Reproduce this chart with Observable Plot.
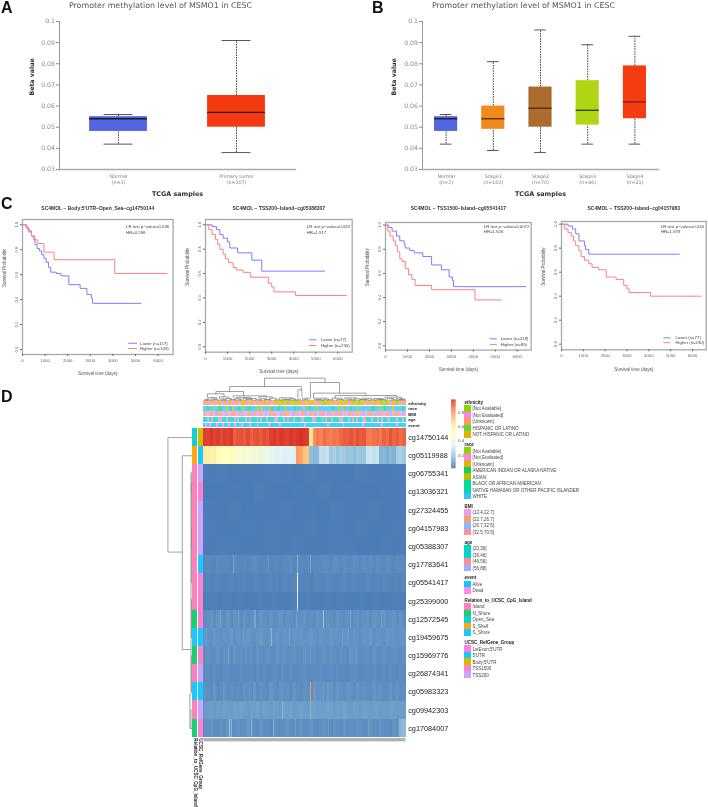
<!DOCTYPE html>
<html><head><meta charset="utf-8">
<script src="https://cdn.jsdelivr.net/npm/d3@7"></script>
<script src="https://cdn.jsdelivr.net/npm/@observablehq/plot@0.6"></script>
<style>
html,body{margin:0;padding:0;background:#fff;width:708px;height:807px;overflow:hidden}
#page{position:relative;width:708px;height:807px;filter:blur(0.3px)}
#page svg{position:absolute;overflow:visible;max-width:none}
.tag{position:absolute;font:bold 16px/16px "Liberation Sans";color:#111}
</style></head><body><div id="page"></div>
<script>
// ---------- Panels A, B: box summaries (min, q1, median, q3, max) ----------
const groupsA = ["Normal","Primary tumor"];
const countsA = ["n=3","n=307"];
const minA = [0.042,0.038], q1A = [0.048,0.050], medA = [0.054,0.057], q3A = [0.055,0.065], maxA = [0.056,0.091];
const fillA = ["#5266e0","#f43910"], medColorA = ["#1a1a2a","#3a1a10"];
const groupsB = ["Normal","Stage1","Stage2","Stage3","Stage4"];
const countsB = ["n=3","n=163","n=70","n=46","n=21"];
const minB = [0.042,0.039,0.038,0.042,0.042], q1B = [0.048,0.049,0.050,0.051,0.054], medB = [0.054,0.054,0.059,0.058,0.062], q3B = [0.055,0.060,0.069,0.072,0.079], maxB = [0.056,0.081,0.096,0.089,0.093];
const fillB = ["#5266e0","#f08a1d","#ad6b30","#b0d514","#f43c10"], medColorB = ["#1a1a2a","#4d2e10","#4d2e12","#2e3a10","#7d2010"];
const betaTicks = [0.03,0.04,0.05,0.06,0.07,0.08,0.09,0.1];
const boxTitle = "Promoter methylation level of MSMO1 in CESC";

// ---------- Panel C: survival curves (time in days, probability) ----------
const km1LowT=[0,150,250,400,500,550,650,750,850,950,1050,1150,1250,1500,1700,2050,2550,2850,3050,3100,5250];
const km1LowS=[1,.98,.95,.91,.88,.84,.81,.79,.76,.73,.70,.66,.62,.61,.59,.52,.49,.44,.41,.37,.37];
const km1HighT=[0,200,300,400,550,650,950,1400,4080,6400];
const km1HighS=[1,.97,.94,.91,.88,.85,.78,.72,.61,.61];
const km2LowT=[0,300,500,650,800,1000,1100,1450,2100,2550,5400];
const km2LowS=[1,.985,.96,.92,.89,.86,.81,.77,.71,.62,.62];
const km2HighT=[0,150,300,450,550,650,800,900,1050,1250,1400,1700,2050,2850,3000,3100,4080,6400];
const km2HighS=[1,.96,.92,.88,.84,.80,.76,.72,.69,.65,.63,.61,.57,.52,.49,.45,.42,.42];
const km3LowT=[0,150,300,500,650,850,900,1100,1300,1700,2100,2550,2900,3050,3100,6400];
const km3LowS=[1,.98,.95,.91,.87,.84,.81,.79,.77,.74,.67,.63,.57,.54,.49,.49];
const km3HighT=[0,100,200,350,450,550,650,750,900,1050,1200,1350,2100,4080,5300];
const km3HighS=[1,.95,.91,.87,.83,.78,.72,.70,.64,.59,.55,.50,.465,.38,.38];
const km4LowT=[0,300,500,650,800,1050,1100,1250,5400];
const km4LowS=[1,.985,.96,.92,.86,.82,.79,.75,.75];
const km4HighT=[0,150,300,450,550,650,800,900,1050,1250,1400,1700,2050,2500,2850,3000,3100,4080,6400];
const km4HighS=[1,.96,.93,.90,.86,.82,.78,.73,.70,.67,.64,.62,.56,.54,.49,.46,.43,.40,.40];

// ---------- Panel D: heatmap ----------
const probes = ["cg14750144","cg05119988","cg06755341","cg13036321","cg27324455","cg04157983","cg05388307","cg17783641","cg05541417","cg25399000","cg12572545","cg19459675","cg15969776","cg26874341","cg05983323","cg09942303","cg17084007"];
const heatStops = [0.01,0.169,0.328,0.487,0.646,0.805,0.964];
const heatColors = ["#4575B4","#91BFDB","#E0F3F8","#FFFFBF","#FEE090","#FC8D59","#D73027"];
const sampleCount = 307;
// methylation (percent) read across each row, left to right
const rowValues = [
[94,93,95,93,94,92,94,93,95,88,90,91,89,92,88,90,91,89,92,90,94,95,93,95,94,93,95,94,95,96,95,94,62,80,84,82,86,84,83,85,84,87,89,88,90,88,91,89,90,84,83,85,86,84,88,86,90,87,89,86,88],
[59,58,56,57,50,49,48,49,50,46,45,44,43,44,42,41,43,40,39,40,36,35,33,34,32,33,34,32,78,76,70,69,17,15,16,27,26,28,20,22,19,21,20,18,19,17,20,18,19,28,29,27,28,14,15,13,15,14,21,23,20],
[2.6,2.8,2.5,2.7,2.6,2.9,2.6,2.5,2.8,2.6,2.7,2.5,2.8,2.6,2.7,2.9],
[2.5,2.7,2.6,2.5,2.8,2.6,2.4,2.7,2.6,2.8,2.5,2.6,2.7,2.5,2.6,2.7],
[2.7,2.6,2.8,2.5,2.7,2.6,2.9,2.6,2.7,2.5,2.8,2.7,2.6,2.8,2.6,2.7],
[2.8,2.6,2.7,2.9,2.6,2.8,2.7,2.6,2.8,2.7,2.9,2.6,2.8,2.7,2.6,2.8],
[2.6,2.8,2.9,2.7,2.6,2.8,2.7,3,2.7,2.6,2.8,2.9,2.6,2.7,2.8,2.7],
[4.8,5.4,5,4.7,5.6,4.9,5.2,5.5,4.8,6,5.1,4.8,5.5,4.9,5.2,6,5.4,4.8,5.1,5.6,4.9,5.4,5,4.8,5.5,5,6,4.9,5.4,5.2,4.8,5.6,4.9,5.4,5.1,5.5,6,5.7,5.2,6.4,6,5.4,6.2,5.6,5.4,6.4,6,5.4,6,5.6,6.2,5.4,6,5.6,5.4,6,5.6,5.4,6,5.6,5.4],
[4,4.4,4,4.7,4.4,4,4.4,4.7,4,4.4,4.7,4.4,4,4.7,4.4,4,4.7,5,4.4,4.7,4,4.7,4.4,4.7,5,4.7,4.4,4.7,4,5,4.7,4.4,5,4.7,4.4,4.7,5,4.7,4.4,5,4.7,4.4,4.7,5,4.4,4.7,4.4,5,4.7,4.4,4.7,4.4,4.7],
[3,3.2,2.9,3.3,3,3.2,3,2.9,3.4,3,3.2,3.1,3,3.3,3,3.2,2.9,3.1,3.3,3,3.2,3,3.1,3.3,3,3.2,3.1,3,3.3,3.1],
[6,6.6,7.4,6,7.6,6.6,6,7.8,6,7.2,6.6,6,7.6,6,6.6,7.2,6,7.8,6.6,6,7.2,6,6.6,7.6,6,7.2,6.6,6,7.2,6.6,7.8,6,6.6,6,7.6,6.6,6,7.2,6.6,6,7.6,6.6,6,7.2,6,6.6,7.6,6,6.6,7.2,6,7.6,6.6,6,7.2,6,6.6,7.6,6,7.2,6],
[7.8,7.2,6.8,8.4,7.2,6.8,7.8,7.2,8.8,6.8,7.8,7.2,6.8,8.4,7.2,6.8,7.8,8.8,7.2,6.8,7.8,7.2,8.4,6.8,7.8,7.2,6.8,8.4,7.2,7.8,6.8,7.2,8.4,7.2,6.8,7.8,7.2,6.8,8.4,7.2,7.8,6.8,7.2,8.4,6.8,7.8,7.2,6.8,7.8,7.2,8.4,6.8,7.8,7.2,6.8,8.4,7.2,7.8,6.8,7.2,7.8],
[6.5,7,6,6.5,7.5,6,7,6.5,6,7.5,6.5,7,6,6.5,7,6,7.5,6.5,6,7,6.5,6,7.5,6.5,7,6,6.5,7,6,6.5,7.5,7,6.5,7,6,6.5,7,6,7.5,6.5,6,7,6.5,6,7.5,6.5,7,6,6.5,7,6,7.5,6.5,6,7,6.5,6,7,6.5,6,7],
[5.6,6,5.4,6.4,5.6,5.4,6,6.4,5.6,5.4,5.6,6.4,5.4,5.6,6,5.4,6.4,5.6,6,5.4,5.6,6.4,5.6,5.4,6,5.6,6.4,5.4,5.6,6,6.4,5.6,5.4,6,5.6,6.4,5.4,5.6,6,5.4,6.4,5.6,5.6,5.4,6,6.4,5.6,5.4,5.6,6,5.4,6.4,5.6,5.6,6,5.4,6.4,5.6,5.4,6,5.6],
[7,6.5,6,7.5,6,6.5,7.5,6,7,6,6.5,6,7.5,6.5,6,8,6,7,6.5,6,8,6.5,6,7.5,6.5,7,6,7.5,6.5,6,7,6.5,6,8.5,7,7.5,6.5,8.5,7.5,6.5,8,7,6.5,7.5,7,6,7.5,6.5,7,6.5,6,7.5,6.5,7,6,6.5,7.5,6.5,7,6,6.5],
[8.8,9.2,9.6,8.8,9.6,9.2,10,9.6,9.2,10,9.6,10.4,9.6,9.2,10,9.6,10.4,9.2,10,9.6,9.2,10,9.6,9.2,10.4,9.6,10,9.2,9.6,10,9.6,9.2,10,10.4,9.6,10,9.6,10.4,10,9.2,10,9.6,10.4,9.6,9.2,10,9.6,9.2,10,9.6,9.2,9.6,10,9.2,9.6,9.2,10,9.6,9.2,9.6,9.2],
[6,6.6,7.4,6.2,6,7.2,6.2,7.8,6.6,6,7.2,6.2,6.6,8.2,6.6,6.2,6,7.4,6.2,6.6,6,7.2,6.2,6,6.6,7.4,6.2,6.6,6,7.2,6.2,6.6,7.8,6.2,6,6.6,7.2,6.2,6,7.4,6.6,6.2,7.2,6,6.6,6.2,7.2,6.6,6,6.2,7.2,6.6,6,7.4,6.2,6.6,6,7.2,6.6,15,16]
];
// narrow single-sample streaks: probe index, sample index, percent
const streakRow = [7,7,7,7,8,9,10,10,10,10,10,10,11,11,11,11,12,12,12,13,14,14,14,14,15,15,16,16,16,16,16,16,11,12,10,16];
const streakSample = [45,142,162,99,142,142,25,53,78,141,182,222,103,5,60,210,38,63,162,120,162,182,30,70,162,120,40,43,73,106,190,250,130,230,270,140];
const streakValue = [11,14,12,8,42,32,11,10,11,10,20,11,15,10,10,10,11,9,9,8,78,10,9,9,14,14,20,15,15,13,10,10,11,9,10,10];

// sample annotation tracks, one letter per sample group
const trackNames = ["ethnicity","race","BMI","age","event"];
const ethnicityTrack = "pogpogpogopgpgopogpogggpogopgogpgogpoggggvgghgggvgggpgogggopggghgggogpgggoggpgvgghggopggpggogvghggpgghgpgo";
const raceTrack = "wwbwwawwbbwwawbuwwbwawwbbwwwawuwwwsbwwwbwwawwwwbwwwwuwwbwwawwwwwwwwbwwawswwwbwwwawwwwwwbbwwawwbwwwuwwwwbw";
const bmiTrack = "rovrovbrrovrbvorrvobrvvorbrovrovbvrorrvvbororvbrovvrobvrorbvorrvobrvorrbvovrorbrovrbvorovbrrvovrobvrrovbr";
const ageTrack = "ctlcstcclsctlctcsclcttlcstcclcsctlctcsltctlcscclttcslcctclscttlcsctlcctsltcclcstlctlsctclttsclctslctclctsc";
const eventTrack = "adadaaadaadaadaadaaadaaadaaadaaaaadaaaaadaaaaaaaaaaaadaaaaaaaaaaadaaaaaaadaaaaaaaaadaaaaaaaaadaaaaaaadaaaa";
const ethnicityLetters = {v:"#8fd400",p:"#ff83e8",o:"#ff9b5a",h:"#5fd63a",g:"#e0b400"};
const raceLetters = {a:"#8fd400",e:"#ff83e8",u:"#e8b000",n:"#12d060",s:"#b8bf00",b:"#00d8a0",h:"#00d8a8",w:"#33c3ff"};
const bmiLetters = {v:"#e89cf5",o:"#ff9e6a",b:"#8fb3ff",r:"#ff8fa3"};
const ageLetters = {t:"#00d8b8",c:"#00d4d8",s:"#ff8f8f",l:"#b0a8ff"};
const eventLetters = {a:"#00ccff",d:"#ff8cf0"};

// probe annotation tracks
const relationNames = ["Open_Sea","S_Shelf","Island","Island","Island","Island","Island","Island","Island","Island","N_Shore","S_Shore","N_Shore","Island","S_Shore","Island","N_Shore"];
const refGeneNames = ["Body;5'UTR","5'UTR","TSS200","TSS1500","TSS200","TSS200","TSS200","5'UTR","TSS1500","TSS1500","TSS1500","5'UTR","TSS1500","TSS200","5'UTR","TSS200","TSS1500"];
const relationKeys = ["Island","N_Shore","Open_Sea","S_Shelf","S_Shore"];
const relationColors = ["#ff7fbf","#19cf70","#11d1c8","#ffa814","#19c9ff"];
const refGeneKeys = ["1stExon;5'UTR","5'UTR","Body;5'UTR","TSS1500","TSS200"];
const refGeneColors = ["#ff80e0","#1bc9ff","#d3bd00","#ff80d0","#cba4ff"];

// dendrograms: [end a, end b, join height, height at a, height at b]
const columnTree = [
[92.4,184.3,67,42,54],[39.4,148,42,27,32],[162,206,54,7,22],[18.7,60.6,27,20,14],[143,149,32,7,12],[166.6,246,22,7,15],[199.5,293,15,7,10],
[6,31,20,9,11],[45,95,14,9,11],[275,300,10,6,6],[8,20,9,4,5],[2,6,4,1,1],[12,18,5,1,2],[24,38,11,5,6],[26,31,5,1,2],[33,42,6,2,2],[50,72,9,5,6],[46,56,5,1,2],[60,80,6,2,3],[84,104,11,5,7],[86,96,5,1,2],[100,110,7,2,3],[115,135,8,4,5],[118,126,4,1,2],[130,139,5,1,2],[143,147,4,1,1],[150,160,7,2,4],[168,186,7,3,4],[170,178,3,1,1],[182,190,4,1,2],[195,210,7,3,4],[214,232,8,4,5],[216,224,4,1,2],[228,238,5,2,2],[240,254,7,3,4],[243,250,3,1,1],[258,272,6,3,3],[262,270,3,1,1],[278,288,6,2,3],[292,305,5,2,3],[296,302,3,1,1],
[4,10,2,0,0],[14,22,3,0,0],[28,35,2,0,0],[40,48,3,0,0],[52,58,2,0,0],[64,74,3,0,0],[78,88,2,0,0],[92,102,3,0,0],[108,116,2,0,0],[122,132,3,0,0],[136,142,2,0,0],[152,158,3,0,0],[172,180,2,0,0],[188,196,2,0,0],[202,212,3,0,0],[220,230,2,0,0],[236,246,3,0,0],[252,260,2,0,0],[266,276,3,0,0],[284,294,2,0,0],[298,306,2,0,0]
];
const rowTree = [
[0.5,6.8,24.4,0,10],[1.5,12.16,10,0,1.3],[2.4,14.5,1.3,0.3,0.3],[3,8.5,0.9,0,0],[9.4,11.5,0.8,0,0],[12.5,14.5,0.9,0,0],[14.6,16.5,2.4,1.2,0],[15.5,16.5,1.3,0,0],[2.5,3.5,0.5,0,0],[5.5,6.5,0.5,0,0]
];

// legend
const legendSections = [
["ethnicity",["[Not Available]","[Not Evaluated]","[Unknown]","HISPANIC OR LATINO","NOT HISPANIC OR LATINO"],["#8fd400","#ff83e8","#ff9b5a","#5fd63a","#e0b400"]],
["race",["[Not Available]","[Not Evaluated]","[Unknown]","AMERICAN INDIAN OR ALASKA NATIVE","ASIAN","BLACK OR AFRICAN AMERICAN","NATIVE HAWAIIAN OR OTHER PACIFIC ISLANDER","WHITE"],["#8fd400","#ff83e8","#e8b000","#12d060","#b8bf00","#00d8a0","#00d8a8","#33c3ff"]],
["BMI",["(13.4,22.7]","(22.7,26.7]","(26.7,32.5]","(32.5,70.5]"],["#e89cf5","#ff9e6a","#8fb3ff","#ff8fa3"]],
["age",["(20,36]","(36,46]","(46,56]","(56,88]"],["#00d8b8","#00d4d8","#ff8f8f","#b0a8ff"]],
["event",["Alive","Dead"],["#00ccff","#ff8cf0"]],
["Relation_to_UCSC_CpG_Island",relationKeys,relationColors],
["UCSC_RefGene_Group",refGeneKeys,refGeneColors]
];

// ---------- helpers ----------
const page = document.getElementById("page");
function place(svg,left,top){svg.style.left=left+"px";svg.style.top=top+"px";page.append(svg);}
function tag(t,left,top){const d=document.createElement("div");d.className="tag";d.textContent=t;d.style.left=left+"px";d.style.top=top+"px";page.append(d);}
const DV='"DejaVu Sans"', LS='"Liberation Sans"';

function boxPanel(left,groups,counts,mins,q1,med,q3,maxs,fills,medColors,titleDx,betaDx){
  const rows=groups.map((g,i)=>({g,label:g,n:counts[i],min:mins[i],q1:q1[i],med:med[i],q3:q3[i],max:maxs[i],fill:fills[i],mc:medColors[i]}));
  const W=236, bw=W/groups.length*.49;
  const countOf=Object.fromEntries(rows.map(r=>[r.g,r.n]));
  const svg=Plot.plot({width:W+80,height:198,marginLeft:50,marginRight:30,marginTop:21,marginBottom:29,
    style:{fontFamily:DV,background:"transparent"},
    x:{type:"band",domain:groups,paddingInner:.51,paddingOuter:.255,round:false,label:null},
    y:{domain:[.03,.1],label:null},
    marks:[
      Plot.frame({anchor:"left",stroke:"#9a9a9a",strokeWidth:1}),
      Plot.frame({anchor:"bottom",stroke:"#aaa",strokeWidth:1.4}),
      Plot.axisY({ticks:betaTicks,tickSize:3,tickPadding:1.5,fontSize:6.2,color:"#8a8a8a",label:null,tickFormat:d=>String(+d.toFixed(2))}),
      Plot.axisX({tickSize:0,tickPadding:3.5,fontSize:4.8,color:"#808080",label:null,lineHeight:1.35,tickFormat:d=>d+"\n("+countOf[d]+")"}),
      Plot.ruleX(rows,{x:"g",y1:"min",y2:"q1",stroke:"#333",strokeWidth:.9,strokeDasharray:"1.6,1"}),
      Plot.ruleX(rows,{x:"g",y1:"q3",y2:"max",stroke:"#333",strokeWidth:.9,strokeDasharray:"1.6,1"}),
      Plot.tickY(rows,{x:"g",y:"min",stroke:"#555",strokeWidth:1,insetLeft:bw/4,insetRight:bw/4}),
      Plot.tickY(rows,{x:"g",y:"max",stroke:"#555",strokeWidth:1,insetLeft:bw/4,insetRight:bw/4}),
      Plot.barY(rows,{x:"g",y1:"q1",y2:"q3",fill:"fill"}),
      Plot.tickY(rows,{x:"g",y:"med",stroke:"mc",strokeWidth:1.3}),
      Plot.text([boxTitle],{frameAnchor:"top",dx:titleDx,dy:-16,lineAnchor:"middle",fontSize:7.9,fill:"#555"}),
      Plot.text(["TCGA samples"],{frameAnchor:"bottom",dy:24,lineAnchor:"middle",fontSize:6.4,fontWeight:"bold",fill:"#333"}),
      Plot.text(["Beta value"],{frameAnchor:"left",dx:betaDx,rotate:-90,fontSize:6.2,fontWeight:"bold",fill:"#333"})
    ]});
  place(svg,left-50,0);
}

function kmPanel(cfg){
  const {L,R,T,B,y1,y0,x6k,title,lowT,lowS,highT,highS,keyT,keyX1,keyX2,keyY,lrT,lrY,lr,names}=cfg;
  const mL=24,mT=16,mB=30,mR=2;
  const low=lowT.map((t,i)=>({t,s:lowS[i]})), high=highT.map((t,i)=>({t,s:highS[i]}));
  const svg=Plot.plot({width:mL+(R-L)+mR,height:mT+(B-T)+mB,marginLeft:mL,marginRight:mR,marginTop:mT,marginBottom:mB,
    style:{fontFamily:LS,background:"transparent"},
    x:{domain:[0,6000],range:[mL,mL+x6k-L],label:null},
    y:{domain:[0,1],range:[mT+y0-T,mT+y1-T],label:null},
    marks:[
      Plot.frame({stroke:"#a8a8a8",strokeWidth:1.3}),
      Plot.axisX({ticks:[0,1000,2000,3000,4000,5000,6000],tickSize:2,tickPadding:2.5,fontSize:4.3,color:"#666",label:null,tickFormat:d=>String(d)}),
      Plot.axisY({ticks:[0,.2,.4,.6,.8,1],tickSize:2,tickPadding:3,tickRotate:-90,fontSize:4.3,color:"#666",label:null,tickFormat:d=>d.toFixed(1)}),
      Plot.line(low,{x:"t",y:"s",curve:"step-after",stroke:"#7c7cff",strokeWidth:1}),
      Plot.line(high,{x:"t",y:"s",curve:"step-after",stroke:"#ff8080",strokeWidth:1}),
      Plot.text(lr,{x:()=>lrT,y:(d,i)=>lrY[i],text:d=>d,textAnchor:"start",fontSize:4.3,fill:"#444"}),
      Plot.ruleY([keyY[0]],{x1:keyX1,x2:keyX2,stroke:"#7c7cff",strokeWidth:1}),
      Plot.ruleY([keyY[1]],{x1:keyX1,x2:keyX2,stroke:"#ff8080",strokeWidth:1}),
      Plot.text(names,{x:()=>keyT,y:(d,i)=>keyY[i],text:d=>d,textAnchor:"start",fontSize:4.3,fill:"#444"}),
      Plot.text([title],{frameAnchor:"top",dy:208-T,lineAnchor:"middle",fontSize:5,fontWeight:"bold",fill:"#333"}),
      Plot.text(["Survival time (days)"],{frameAnchor:"bottom",dy:19.5,lineAnchor:"middle",fontSize:4.5,fill:"#555"}),
      Plot.text(["Survival Probability"],{frameAnchor:"left",dx:-18,rotate:-90,fontSize:4.5,fill:"#555"})
    ]});
  place(svg,L-mL,T-mT);
}

// ---------- draw A, B ----------
boxPanel(59,groupsA,countsA,minA,q1A,medA,q3A,maxA,fillA,medColorA,-17,-27);
boxPanel(422.3,groupsB,countsB,minB,q1B,medB,q3B,maxB,fillB,medColorB,-17,-28.3);

// ---------- draw C ----------
kmPanel({L:21.7,R:172.3,T:219,B:354,y1:224.3,y0:349,x6k:157.3,title:"SC4MOL − Body;5'UTR−Open_Sea−cg14750144",lowT:km1LowT,lowS:km1LowS,highT:km1HighT,highS:km1HighS,keyT:5200,keyX1:4700,keyX2:5090,keyY:[.05,.008],lrT:4584,lrY:[.985,.94],lr:["LR test p−value=0.036","HR=0.596"],names:["Lower (n=157)","Higher (n=149)"]});
kmPanel({L:205.3,R:352,T:219,B:351.7,y1:224.3,y0:346.3,x6k:337.7,title:"SC4MOL − TSS200−Island−cg05388307",lowT:km2LowT,lowS:km2LowS,highT:km2HighT,highS:km2HighS,keyT:5230,keyX1:4712,keyX2:5047,keyY:[.057,.0107],lrT:4590,lrY:[.984,.94],lr:["LR test p−value=0.028","HR=1.917"],names:["Lower (n=77)","Higher (n=230)"]});
kmPanel({L:385,R:530.7,T:221.7,B:349.3,y1:224.3,y0:345,x6k:516.7,title:"SC4MOL − TSS1500−Island−cg05541417",lowT:km3LowT,lowS:km3LowS,highT:km3HighT,highS:km3HighS,keyT:5250,keyX1:4772,keyX2:5092,keyY:[.058,.011],lrT:4480,lrY:[.988,.944],lr:["LR test p−value=0.0072","HR=1.926"],names:["Lower (n=218)","Higher (n=89)"]});
kmPanel({L:561.3,R:706,T:221,B:349.3,y1:223.7,y0:343.7,x6k:692.3,title:"SC4MOL − TSS200−Island−cg04157983",lowT:km4LowT,lowS:km4LowS,highT:km4HighT,highS:km4HighS,keyT:5220,keyX1:4691,keyX2:5012,keyY:[.053,.012],lrT:4553,lrY:[.983,.94],lr:["LR test p−value=0.034","HR=1.878"],names:["Lower (n=77)","Higher (n=230)"]});

// ---------- draw D ----------
const heatScale={type:"linear",domain:heatStops,range:heatColors,clamp:true};
const HL=203.3,HW=202.7,HT=428.3,HH=309;
const cells=[];
rowValues.forEach((vals,r)=>vals.forEach((v,i)=>cells.push({probe:probes[r],a:i/vals.length*sampleCount,b:(i+1)/vals.length*sampleCount,v:v/100})));
streakRow.forEach((r,i)=>cells.push({probe:probes[r],a:streakSample[i],b:streakSample[i]+1.6,v:streakValue[i]/100}));
place(Plot.plot({width:HW+45,height:HH,marginLeft:0,marginRight:45,marginTop:0,marginBottom:0,
  style:{fontFamily:LS,background:"transparent"},
  x:{domain:[0,sampleCount],axis:null},
  y:{type:"band",domain:probes,padding:0,round:false,label:null},
  color:heatScale,
  marks:[
    Plot.barX(cells,{x1:"a",x2:"b",y:"probe",fill:"v",shapeRendering:"crispEdges"}),
    Plot.axisY({anchor:"right",tickSize:0,tickPadding:2,fontSize:7.3,color:"#222",label:null})
  ]}),HL,HT);

// sample tracks
const trackStrings=[ethnicityTrack,raceTrack,bmiTrack,ageTrack,eventTrack];
const trackLetters=[ethnicityLetters,raceLetters,bmiLetters,ageLetters,eventLetters];
const trackCells=[];
trackStrings.forEach((s,k)=>[...s].forEach((c,i)=>trackCells.push({name:trackNames[k],a:i/s.length*sampleCount,b:(i+1)/s.length*sampleCount,c:trackLetters[k][c]})));
place(Plot.plot({width:HW+45,height:27.6,marginLeft:0,marginRight:45,marginTop:0,marginBottom:0,
  style:{fontFamily:LS,background:"transparent"},
  x:{domain:[0,sampleCount],axis:null},
  y:{type:"band",domain:trackNames,paddingInner:.14,paddingOuter:.05,round:false,label:null},
  marks:[
    Plot.barX(trackCells,{x1:"a",x2:"b",y:"name",fill:"c",fillOpacity:.78,shapeRendering:"crispEdges"}),
    Plot.axisY({anchor:"right",tickSize:0,tickPadding:2,fontSize:4.4,fontWeight:"bold",color:"#222",label:null})
  ]}),HL,400.4);

// top dendrogram
function elbows(tree){const pts=[];tree.forEach(([a,b,h,ha,hb],id)=>{[[a,ha],[a,h],[b,h],[b,hb]].forEach(([p,q])=>pts.push({id,p,q}));});return pts;}
place(Plot.plot({width:HW,height:25,margin:0,
  x:{domain:[0,sampleCount],axis:null},y:{domain:[0,75],range:[25,0],axis:null},
  marks:[Plot.line(elbows(columnTree),{x:"p",y:"q",z:"id",stroke:"#777",strokeWidth:.7,curve:"linear"})]}),HL,375);

// bottom sample-label strip
place(Plot.plot({width:HW,height:3.4,margin:0,
  x:{domain:[0,sampleCount],axis:null},y:{domain:[0,1],axis:null},
  marks:[Plot.rectY([0],{x1:0,x2:sampleCount,y1:0,y2:1,fill:"#b2b2b2"})]}),HL,738.3);

// left dendrogram
place(Plot.plot({width:26.8,height:HH,margin:0,
  x:{domain:[26.8,0],axis:null},y:{domain:[0,17],range:[0,HH],axis:null},
  marks:[Plot.line(elbows(rowTree),{x:"q",y:"p",z:"id",stroke:"#8a8a8a",strokeWidth:.8,curve:"linear"})]}),164.9,HT);

// probe tracks
const probeCells=[];
probes.forEach((p,i)=>{
  probeCells.push({track:"Relation_to_UCSC_CpG_Island",probe:p,c:relationColors[relationKeys.indexOf(relationNames[i])]});
  probeCells.push({track:"UCSC_RefGene_Group",probe:p,c:refGeneColors[refGeneKeys.indexOf(refGeneNames[i])]});
});
place(Plot.plot({width:10.6,height:HH+64,marginLeft:0,marginRight:0,marginTop:0,marginBottom:64,
  style:{fontFamily:LS,background:"transparent"},
  x:{type:"band",domain:["Relation_to_UCSC_CpG_Island","UCSC_RefGene_Group"],paddingInner:.1,paddingOuter:0,round:false,label:null},
  y:{type:"band",domain:probes,padding:0,round:false,axis:null},
  marks:[
    Plot.cell(probeCells,{x:"track",y:"probe",fill:"c",shapeRendering:"crispEdges"}),
    Plot.axisX({tickSize:0,tickPadding:1,tickRotate:90,fontSize:4.6,fontWeight:"bold",color:"#222",label:null})
  ]}),191.9,HT);

// colour bar
const barLevels=d3.range(0.01,0.964,0.01);
place(Plot.plot({width:15,height:68.3,marginLeft:0,marginRight:10.4,marginTop:0,marginBottom:0,
  style:{fontFamily:LS,background:"transparent"},
  x:{domain:[0,1],axis:null},
  y:{domain:[0.01,0.964],label:null},
  color:heatScale,
  marks:[
    Plot.rectY(barLevels,{x1:0,x2:1,y1:d=>d,y2:d=>d+0.011,fill:d=>d}),
    Plot.axisY({anchor:"right",ticks:[.2,.4,.6,.8],tickSize:0,tickPadding:2,fontSize:4.4,color:"#555",label:null,tickFormat:d=>d.toFixed(1)})
  ]}),450.7,400);

// legend
const legendRows=[],legendStep=6.5,legendGap=3.2;let cursor=7;
legendSections.forEach(([head,keys,cols])=>{
  legendRows.push({y:cursor,text:head,head:true});cursor+=legendStep;
  keys.forEach((k,i)=>{legendRows.push({y:cursor,text:k,c:cols[i]});cursor+=legendStep;});
  cursor+=legendGap;
});
place(Plot.plot({width:240,height:290,margin:0,
  style:{fontFamily:LS,background:"transparent"},
  x:{domain:[0,240],range:[0,240],axis:null},y:{domain:[0,290],range:[0,290],axis:null},
  marks:[
    Plot.rect(legendRows.filter(d=>!d.head),{x1:0,x2:6.7,y1:d=>d.y-3.25,y2:d=>d.y+3.25,fill:"c",shapeRendering:"crispEdges"}),
    Plot.text(legendRows.filter(d=>!d.head),{x:()=>8,y:"y",text:"text",textAnchor:"start",fontSize:4.5,fill:"#444"}),
    Plot.text(legendRows.filter(d=>d.head),{x:()=>0,y:"y",text:"text",textAnchor:"start",fontSize:4.5,fontWeight:"bold",fill:"#222"})
  ]}),464.3,395);

tag("A",1,0);tag("B",372,0);tag("C",1,196);tag("D",1,389);
</script></body></html>
